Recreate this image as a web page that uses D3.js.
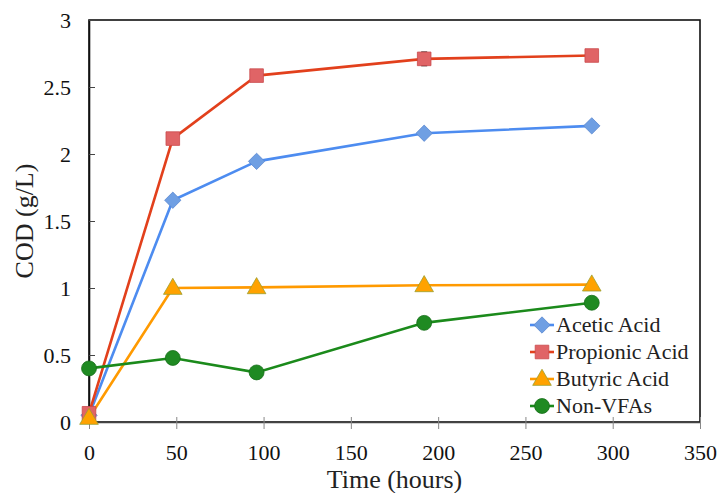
<!DOCTYPE html>
<html>
<head>
<meta charset="utf-8">
<script src="https://cdn.jsdelivr.net/npm/d3@7"></script>
<style>
  body { margin: 0; background: #fff; }
</style>
</head>
<body>
<div id="chart"></div>
<script>
// time points (hours)
const hours = [0, 48, 96, 192, 288];

const acetic = [0.05, 1.655, 1.945, 2.155, 2.21];
const propionic = [0.065, 2.115, 2.585, 2.71, 2.735];
const butyric = [0.03, 1.0, 1.005, 1.02, 1.025];
const nonVFAs = [0.40, 0.478, 0.37, 0.74, 0.89];

const aceticErr = [0, 0.01, 0.02, 0.02, 0.03];
const propionicErr = [0, 0.02, 0.03, 0.05, 0.03];
const butyricErr = [0, 0.01, 0.01, 0.01, 0.01];
const nonVFAsErr = [0, 0, 0, 0, 0];

const xTicks = [0, 50, 100, 150, 200, 250, 300, 350];
const yTicks = [0, 0.5, 1, 1.5, 2, 2.5, 3];

const seriesNames = ["Acetic Acid", "Propionic Acid", "Butyric Acid", "Non-VFAs"];

const series = [
  { name: seriesNames[0], values: acetic, err: aceticErr, line: "#4d8cf0", fill: "#6f9fe3", stroke: "#5a88d0", shape: "diamond" },
  { name: seriesNames[1], values: propionic, err: propionicErr, line: "#e2401c", fill: "#e06466", stroke: "#c94a4c", shape: "square" },
  { name: seriesNames[2], values: butyric, err: butyricErr, line: "#ff9a00", fill: "#ffa200", stroke: "#9aa030", shape: "triangle" },
  { name: seriesNames[3], values: nonVFAs, err: nonVFAsErr, line: "#1b8a1b", fill: "#1f8a22", stroke: "#176e19", shape: "circle" }
];

const FONT = '"Liberation Serif", "Times New Roman", serif';
const width = 721, height = 493;
const margin = { left: 89, right: 21, top: 20, bottom: 71 };

const svg = d3.select("#chart").append("svg")
  .attr("width", width)
  .attr("height", height)
  .style("font-family", FONT);

const x = d3.scaleLinear().domain([0, 350]).range([margin.left, width - margin.right]);
const y = d3.scaleLinear().domain([0, 3]).range([height - margin.bottom, margin.top]);

// plot frame
svg.append("rect")
  .attr("x", x(0)).attr("y", y(3))
  .attr("width", x(350) - x(0)).attr("height", y(0) - y(3))
  .attr("fill", "none").attr("stroke", "#111").attr("stroke-width", 1.6);

// x axis with crossing ticks
const xAxis = svg.append("g")
  .attr("transform", `translate(0,${y(0)})`)
  .call(d3.axisBottom(x).tickValues(xTicks).tickSize(0).tickPadding(22).tickFormat(d3.format("d")));
xAxis.attr("font-family", null);
xAxis.select(".domain").attr("stroke", "#444").attr("stroke-width", 1.6);
xAxis.selectAll(".tick line").remove();
xAxis.selectAll(".tick").append("line")
  .attr("y1", -5).attr("y2", 7).attr("stroke", "#888").attr("stroke-width", 1);
xAxis.selectAll(".tick text")
  .style("font-family", FONT).style("font-size", "22px").attr("fill", "#111");

// y axis with inside ticks
const yAxis = svg.append("g")
  .attr("transform", `translate(${x(0)},0)`)
  .call(d3.axisLeft(y).tickValues(yTicks).tickSize(0).tickPadding(18).tickFormat(d => d));
yAxis.attr("font-family", null);
yAxis.select(".domain").attr("stroke", "#111").attr("stroke-width", 1.6);
yAxis.selectAll(".tick line").remove();
yAxis.selectAll(".tick").append("line")
  .attr("x1", 0).attr("x2", 6).attr("stroke", "#444").attr("stroke-width", 1);
yAxis.selectAll(".tick text")
  .style("font-family", FONT).style("font-size", "22px").attr("fill", "#111");

// axis titles
svg.append("text")
  .attr("x", (x(0) + x(350)) / 2)
  .attr("y", 488)
  .attr("text-anchor", "middle")
  .style("font-family", FONT)
  .style("font-size", "26px")
  .attr("fill", "#222")
  .text("Time (hours)");

svg.append("text")
  .attr("transform", `translate(33,${(y(0) + y(3)) / 2}) rotate(-90)`)
  .attr("text-anchor", "middle")
  .style("font-family", FONT)
  .style("font-size", "26px")
  .attr("fill", "#222")
  .text("COD (g/L)");

const shapes = {
  diamond: d3.symbol().type(d3.symbolDiamond2).size(170),
  square: d3.symbol().type(d3.symbolSquare).size(185),
  triangle: d3.symbol().type(d3.symbolTriangle).size(150),
  circle: d3.symbol().type(d3.symbolCircle).size(175)
};

const line = d3.line().x(d => x(d[0])).y(d => y(d[1]));

// lines first, then error bars and markers
series.forEach(s => {
  const pts = hours.map((h, i) => [h, s.values[i]]);
  svg.append("path")
    .datum(pts)
    .attr("fill", "none")
    .attr("stroke", s.line)
    .attr("stroke-width", 2.6)
    .attr("d", line);
});

series.forEach(s => {
  const g = svg.append("g");
  const pts = hours.map((h, i) => ({ h: h, v: s.values[i], e: s.err[i] }));
  const eb = g.selectAll(".err").data(pts.filter(p => p.e > 0)).enter().append("g");
  eb.append("line")
    .attr("x1", d => x(d.h)).attr("x2", d => x(d.h))
    .attr("y1", d => y(d.v + d.e)).attr("y2", d => y(d.v - d.e))
    .attr("stroke", "#222").attr("stroke-width", 1);
  eb.append("line")
    .attr("x1", d => x(d.h) - 3).attr("x2", d => x(d.h) + 3)
    .attr("y1", d => y(d.v + d.e)).attr("y2", d => y(d.v + d.e))
    .attr("stroke", "#222").attr("stroke-width", 1.5);
  eb.append("line")
    .attr("x1", d => x(d.h) - 3).attr("x2", d => x(d.h) + 3)
    .attr("y1", d => y(d.v - d.e)).attr("y2", d => y(d.v - d.e))
    .attr("stroke", "#222").attr("stroke-width", 1.5);

  g.selectAll(".mk").data(pts).enter().append("path")
    .attr("transform", d => `translate(${x(d.h)},${y(d.v) + (s.shape === "triangle" ? 1 : 0)})`)
    .attr("d", shapes[s.shape])
    .attr("fill", s.fill)
    .attr("stroke", s.stroke)
    .attr("stroke-width", 0.8);
});

// legend
const legend = svg.append("g").attr("transform", "translate(530,325)");
series.forEach((s, i) => {
  const row = legend.append("g").attr("transform", `translate(0,${i * 27})`);
  row.append("line")
    .attr("x1", 0).attr("x2", 24).attr("y1", 0).attr("y2", 0)
    .attr("stroke", s.line).attr("stroke-width", 2.6);
  row.append("path")
    .attr("transform", `translate(12,${s.shape === "triangle" ? 1 : 0})`)
    .attr("d", shapes[s.shape])
    .attr("fill", s.fill)
    .attr("stroke", s.stroke)
    .attr("stroke-width", 0.8);
  row.append("text")
    .attr("x", 26).attr("y", 7)
    .style("font-family", FONT)
    .style("font-size", "22px")
    .attr("fill", "#222")
    .text(s.name);
});
</script>
</body>
</html>
